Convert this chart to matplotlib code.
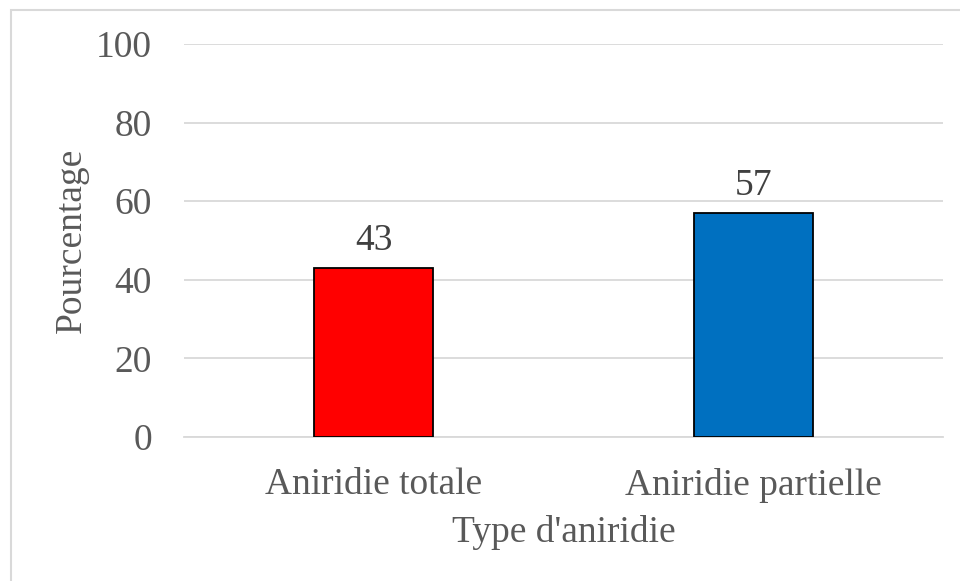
import matplotlib
matplotlib.use("Agg")
import matplotlib.pyplot as plt
from matplotlib.patches import Rectangle

categories = ["Aniridie totale", "Aniridie partielle"]
values = [43, 57]
colors = ["#FF0000", "#0070C0"]
yticks = [0, 20, 40, 60, 80, 100]

plt.rcParams["font.family"] = ["Liberation Serif", "DejaVu Serif"]
text_color = "#595959"
grid_color = "#D9D9D9"
fs = 27

fig = plt.figure(figsize=(9.6, 5.81), dpi=100)
ax = fig.add_axes([184 / 960, 1 - 437 / 581, (943 - 184) / 960, (437 - 44) / 581])

x = list(range(len(categories)))
bars = ax.bar(x, values, width=0.313, color=colors, edgecolor="black",
              linewidth=1.3, zorder=3)
for xi, v in zip(x, values):
    ax.annotate(f"{v}", (xi, v), xytext=(0, 7), textcoords="offset points",
                ha="center", va="bottom", fontsize=fs, color="#404040")

ax.set_xlim(-0.5, len(categories) - 0.5)
ax.set_ylim(0, 100)
ax.set_yticks(yticks)
ax.set_xticks(x)
ax.set_xticklabels(categories)
ax.tick_params(axis="both", length=0, labelsize=fs, colors=text_color)
ax.tick_params(axis="y", pad=23)
ax.tick_params(axis="x", pad=22)
ax.yaxis.grid(True, color=grid_color, linewidth=1.3, zorder=0)
for s in ["top", "right", "left"]:
    ax.spines[s].set_visible(False)
ax.spines["bottom"].set_color(grid_color)
ax.spines["bottom"].set_linewidth(1.3)

ax.set_ylabel("Pourcentage", fontsize=fs, color=text_color, labelpad=5)
ax.set_xlabel("Type d'aniridie", fontsize=fs, color=text_color, labelpad=9)

# chart frame
fig.patches.append(Rectangle((11 / 960, -0.1), 1.2, 1 - 10 / 581 + 0.1,
                             transform=fig.transFigure, fill=False,
                             edgecolor="#D9D9D9", linewidth=1.5))

fig.savefig("out.png", dpi=100)
